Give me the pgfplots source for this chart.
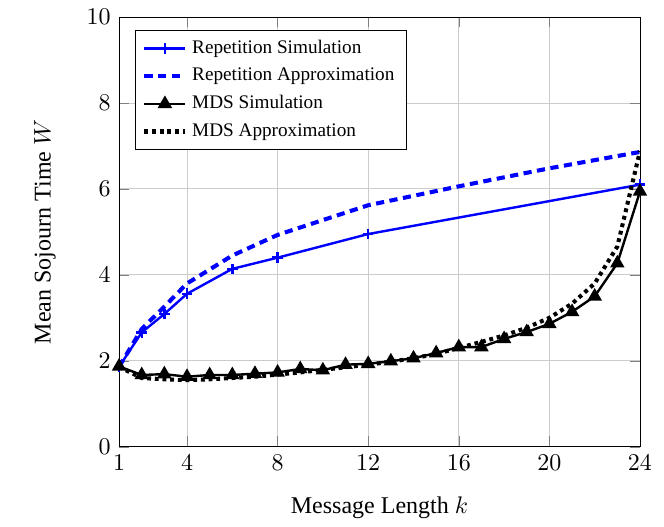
\documentclass[border=0pt]{standalone}
\usepackage{pgfplots}
\pgfplotsset{compat=1.18}
\usepackage{fontspec}
\setmainfont{Liberation Serif}
\begin{document}
\begin{tikzpicture}
\begin{axis}[
  scale only axis,
  at={(0,0)}, anchor=south west,
  width=217pt, height=179pt,
  xmin=1, xmax=24, ymin=0, ymax=10,
  xtick={1,4,8,12,16,20,24},
  ytick={0,2,4,6,8,10},
  grid=major,
  major grid style={gray!40},
  xlabel={Message Length $k$},
  ylabel={Mean Sojourn Time $W$},
  ylabel shift=6pt,
  xlabel shift=4pt,
  legend pos=north west,
  legend style={font=\footnotesize, legend cell align=left, draw=black, row sep=0.6pt},
]
\addplot[blue, line width=1pt, mark=+, mark size=2.2pt] coordinates {
(1,1.86) (2,2.66) (3,3.09) (4,3.56) (6,4.14) (8,4.40) (12,4.95) (24,6.10)};
\addlegendentry{Repetition Simulation}
\addplot[blue, line width=1.7pt, dash pattern=on 3.4pt off 2.3pt] coordinates {
(1,1.86) (2,2.74) (3,3.26) (4,3.80) (6,4.45) (8,4.93) (12,5.62) (16,6.06) (20,6.48) (24,6.86)};
\addlegendentry{Repetition Approximation}
\addplot[black, line width=1pt, mark=triangle*, mark size=2.5pt] coordinates {
(1,1.87) (2,1.67) (3,1.69) (4,1.63) (5,1.67) (6,1.67) (7,1.70) (8,1.73) (9,1.81) (10,1.78) (11,1.91) (12,1.93) (13,1.99) (14,2.06) (15,2.18) (16,2.32) (17,2.32) (18,2.51) (19,2.67) (20,2.86) (21,3.14) (22,3.50) (23,4.27) (24,5.94)};
\addlegendentry{MDS Simulation}
\addplot[black, line width=1.7pt, dash pattern=on 1.6pt off 1.6pt] coordinates {
(1,1.86) (2,1.60) (3,1.57) (4,1.55) (5,1.57) (6,1.60) (7,1.63) (8,1.68) (9,1.73) (10,1.79) (11,1.85) (12,1.91) (13,1.98) (14,2.06) (15,2.16) (16,2.30) (17,2.44) (18,2.59) (19,2.77) (20,3.00) (21,3.33) (22,3.80) (23,4.66) (24,6.88)};
\addlegendentry{MDS Approximation}
\end{axis}
\path (-49.6pt,-30pt) rectangle (227pt,186.1pt);
\end{tikzpicture}
\end{document}
